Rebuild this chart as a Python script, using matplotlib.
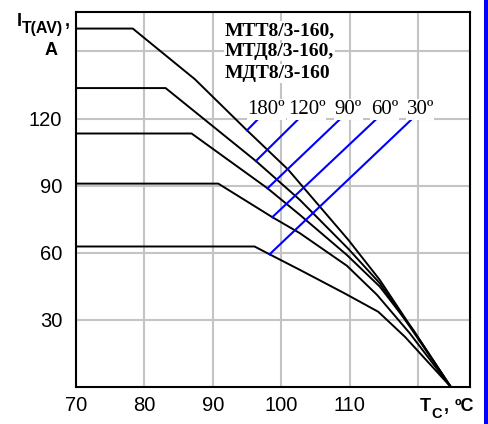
import matplotlib.pyplot as plt
from matplotlib.patches import Rectangle

# Derating curves: case temperature Tc (ºC) vs average on-state current I_T(AV) (A)
angles = ['180º', '120º', '90º', '60º', '30º']

tc_180 = [70, 78.3, 87.4, 95.0, 101.0, 109.8, 114.4, 124.8]
it_180 = [160.2, 160.2, 137.5, 114.7, 97.2, 65.8, 47.9, 0]

tc_120 = [70, 83.1, 96.3, 102.7, 109.8, 114.4, 118.8, 124.8]
it_120 = [133.6, 133.6, 101.0, 83.7, 61.8, 46.4, 27.0, 0]

tc_90 = [70, 86.9, 98.0, 102.7, 109.6, 114.4, 119.3, 124.8]
it_90 = [113.3, 113.3, 88.8, 77.0, 59.0, 44.9, 25.5, 0]

tc_60 = [70, 90.8, 98.7, 102.7, 109.6, 114.0, 118.8, 124.8]
it_60 = [90.9, 90.9, 75.9, 68.8, 54.2, 41.2, 24.0, 0]

tc_30 = [70, 96.1, 98.3, 102.7, 109.3, 114.2, 118.1, 124.8]
it_30 = [62.8, 62.8, 59.3, 52.4, 41.8, 33.6, 22.4, 0]

curves = [(tc_180, it_180), (tc_120, it_120), (tc_90, it_90), (tc_60, it_60), (tc_30, it_30)]

# Leader lines for the angle labels: point on the curve -> upper end
mark_tc = [95.0, 96.3, 98.0, 98.7, 98.3]
mark_it = [114.7, 101.0, 88.8, 75.9, 59.3]
top_tc = [96.7, 102.6, 108.7, 114.0, 119.2]
top_it = [120, 120, 120, 120, 120]

x_ticks = [70, 80, 90, 100, 110, 120]
x_labels = ['70', '80', '90', '100', '110', '']
y_ticks = [30, 60, 90, 120, 150]
y_labels = ['30', '60', '90', '120', '']

models = ['МТТ8/3-160,', 'МТД8/3-160,', 'МДТ8/3-160']

W, H = 489, 424
fig = plt.figure(figsize=(W / 100, H / 100), dpi=100)
ax = fig.add_axes([76 / W, 1 - 387 / H, (470 - 76) / W, (387 - 12) / H])


def px(x, y):
    return x / W, 1 - y / H


# grid
ax.set_xlim(70, 127.6)
ax.set_ylim(0, 167.6)
ax.set_xticks(x_ticks)
ax.set_xticklabels(x_labels)
ax.set_yticks(y_ticks)
ax.set_yticklabels(y_labels)
ax.grid(True, color='#c4c4c4', lw=1.5)
ax.set_axisbelow(True)
ax.tick_params(length=0, labelsize=14.5)
ax.tick_params(axis='x', pad=6.5)
ax.tick_params(axis='y', pad=10)
for lab in ax.get_xticklabels() + ax.get_yticklabels():
    lab.set_fontfamily('Liberation Sans')
for sp in ax.spines.values():
    sp.set_linewidth(1.5)
    sp.set_color('black')

# curves
for tc, it in curves:
    ax.plot(tc, it, color='black', lw=1.4, zorder=3)

# blue leader lines with angle labels
for i in range(len(angles)):
    ax.plot([mark_tc[i], top_tc[i]], [mark_it[i], top_it[i]], color='#0000ff', lw=1.5, zorder=4)
    ax.annotate(angles[i], (top_tc[i], top_it[i]), xytext=(5.5, 3.2), textcoords='offset points',
                ha='center', va='baseline', fontsize=15, family='Liberation Serif',
                bbox=dict(facecolor='white', edgecolor='none', pad=0.5), zorder=5)

# model names
for i, m in enumerate(models):
    fig.text(*px(225, 35 + 21.5 * i), m, fontsize=14, weight='bold', family='Liberation Serif',
             ha='left', va='baseline', bbox=dict(facecolor='white', edgecolor='none', pad=0.5))

# axis titles
fig.text(*px(17, 26), 'I', fontsize=13, weight='bold', family='Liberation Sans', va='baseline')
fig.text(*px(22, 33), 'T(AV)', fontsize=11.5, weight='bold', family='Liberation Sans', va='baseline')
fig.text(*px(65, 26), ',', fontsize=13, weight='bold', family='Liberation Sans', va='baseline')
fig.text(*px(51.5, 55), 'A', fontsize=13, weight='bold', family='Liberation Sans',
         va='baseline', ha='center')

fig.text(*px(420, 411), 'T', fontsize=13, weight='bold', family='Liberation Sans', va='baseline')
fig.text(*px(431, 418.5), 'C', fontsize=10.5, weight='bold', family='Liberation Sans', va='baseline')
fig.text(*px(444, 411), ',', fontsize=13, weight='bold', family='Liberation Sans', va='baseline')
fig.text(*px(455, 411), 'ºC', fontsize=13, weight='bold', family='Liberation Sans', va='baseline')

# blue bar along the right edge
fig.patches.append(Rectangle((484 / W, 0), 5 / W, 1, transform=fig.transFigure,
                             facecolor='#0000ff', edgecolor='none'))

fig.savefig('out.png', dpi=100)
